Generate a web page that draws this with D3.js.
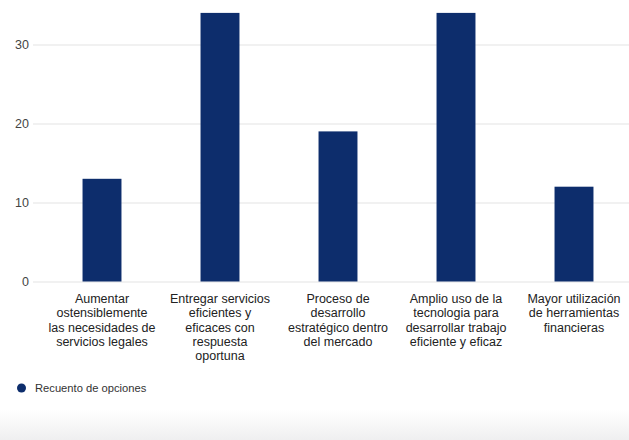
<!DOCTYPE html>
<html><head><meta charset="utf-8">
<script src="https://cdn.jsdelivr.net/npm/d3@7/dist/d3.min.js"></script>
<style>body{margin:0;background:#fff;}svg{display:block;font-family:"Liberation Sans",Arial,Helvetica,sans-serif;}</style>
</head><body><svg id="c" width="629" height="440"></svg>
<script>
const categories = [
  ["Aumentar","ostensiblemente","las necesidades de","servicios legales"],
  ["Entregar servicios","eficientes y","eficaces con","respuesta","oportuna"],
  ["Proceso de","desarrollo","estratégico dentro","del mercado"],
  ["Amplio uso de la","tecnologia para","desarrollar trabajo","eficiente y eficaz"],
  ["Mayor utilización","de herramientas","financieras"]
];
const values = [13, 34, 19, 34, 12];
const yTicks = [0, 10, 20, 30];
const seriesName = "Recuento de opciones";
const barColor = "#0d2d6c";

const svg = d3.select("#c");
const defs = svg.append("defs");
const g = defs.append("linearGradient").attr("id","bg").attr("x1",0).attr("y1",0).attr("x2",0).attr("y2",1);
g.append("stop").attr("offset","0%").attr("stop-color","#ffffff");
g.append("stop").attr("offset","100%").attr("stop-color","#efeff0");
svg.append("rect").attr("x",0).attr("y",410).attr("width",629).attr("height",30).attr("fill","url(#bg)");

const x = d3.scaleBand().domain(d3.range(categories.length)).range([43,633]).paddingInner(0.67).paddingOuter(0.335);
const y = d3.scaleLinear().domain([0,35]).range([281.5,5]);

const yAxis = d3.axisLeft(y).tickValues(yTicks).tickSize(-596).tickPadding(4);
const ga = svg.append("g").attr("transform","translate(33,0)").call(yAxis);
ga.select(".domain").remove();
ga.selectAll(".tick line").attr("stroke","#e3e3e3");
ga.selectAll(".tick text").attr("fill","#444").attr("font-size","12.5px").attr("x",-4);

svg.append("g").selectAll("rect").data(values).join("rect")
  .attr("x",(d,i)=>x(i)).attr("width",x.bandwidth())
  .attr("y",d=>y(d)).attr("height",d=>y(0)-y(d))
  .attr("fill",barColor);

const lab = svg.append("g").selectAll("text").data(categories).join("text")
  .attr("text-anchor","middle").attr("font-size","12.5px").attr("fill","#222")
  .attr("x",(d,i)=>x(i)+x.bandwidth()/2).attr("y",303);
lab.selectAll("tspan").data(d=>d).join("tspan")
  .attr("x",function(){return this.parentNode.getAttribute("x");})
  .attr("dy",(d,i)=>i===0?0:14.3).text(d=>d);

const leg = svg.append("g");
leg.append("circle").attr("cx",21.5).attr("cy",388).attr("r",4.5).attr("fill",barColor);
leg.append("text").attr("x",35).attr("y",392).attr("font-size","11.2px").attr("fill","#333").text(seriesName);
</script></body></html>
